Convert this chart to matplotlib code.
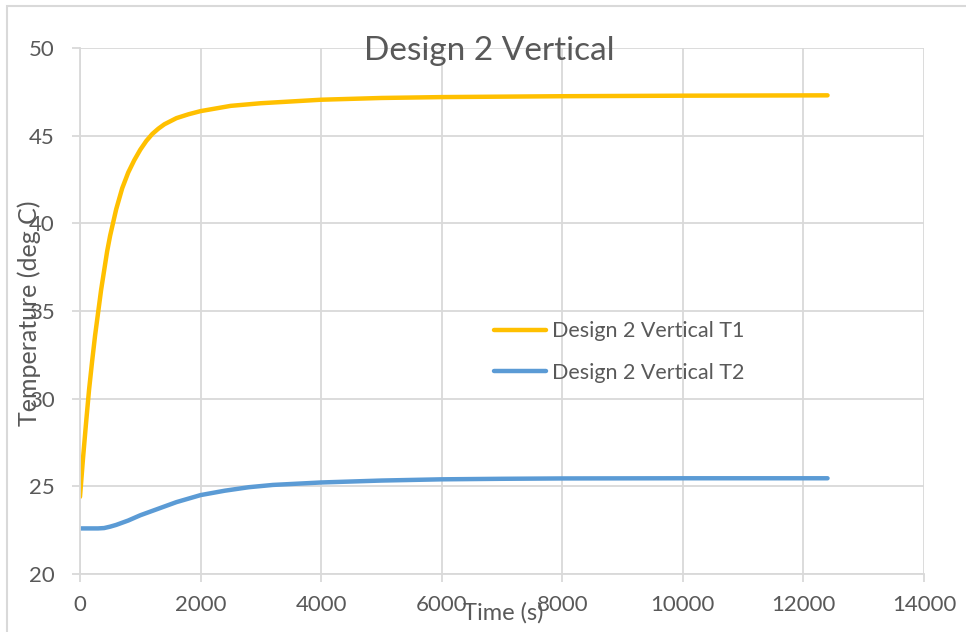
import matplotlib.pyplot as plt
from matplotlib.patches import Rectangle

# time (s) and temperatures (deg C)
t1_time = [0, 50, 100, 150, 200, 250, 300, 350, 400, 450, 500, 600, 700, 800, 900, 1000,
           1100, 1200, 1300, 1400, 1600, 1800, 2000, 2500, 3000, 3500, 4000, 5000, 6000,
           8000, 10000, 12400]
t1_temp = [24.4, 26.6, 28.6, 30.5, 32.1, 33.6, 34.9, 36.2, 37.3, 38.4, 39.3, 40.8, 42.0, 42.9,
           43.6, 44.2, 44.7, 45.1, 45.4, 45.65, 46.0, 46.22, 46.4, 46.7, 46.85, 46.95, 47.05,
           47.15, 47.2, 47.25, 47.28, 47.3]

t2_time = [0, 300, 400, 500, 600, 800, 1000, 1200, 1400, 1600, 1800, 2000, 2400, 2800,
           3200, 3600, 4000, 5000, 6000, 7000, 8000, 10000, 12400]
t2_temp = [22.6, 22.6, 22.62, 22.7, 22.8, 23.05, 23.35, 23.6, 23.85, 24.1, 24.3, 24.5, 24.75,
           24.95, 25.08, 25.15, 25.22, 25.33, 25.4, 25.43, 25.45, 25.46, 25.46]

x_ticks = [0, 2000, 4000, 6000, 8000, 10000, 12000, 14000]
y_ticks = [20, 25, 30, 35, 40, 45, 50]

plt.rcParams['font.family'] = ['Lato', 'DejaVu Sans']
txt = '#595959'
grid = '#d9d9d9'
W, H = 966, 632

fig = plt.figure(figsize=(9.66, 6.32), dpi=100)
fig.patches.append(Rectangle((7 / W, -0.1), 1.1, 1 - 6 / H + 0.1, transform=fig.transFigure,
                             fill=False, edgecolor=grid, linewidth=1.5))
ax = fig.add_axes([80 / W, 1 - 574 / H, 844 / W, 526 / H])

ax.plot(t1_time, t1_temp, color='#FFC000', lw=3.2, label='Design 2 Vertical T1', solid_capstyle='round')
ax.plot(t2_time, t2_temp, color='#5B9BD5', lw=3.2, label='Design 2 Vertical T2', solid_capstyle='round')

ax.set_xlim(0, 14000)
ax.set_ylim(20, 50)
ax.set_xticks(x_ticks)
ax.set_yticks(y_ticks)
ax.grid(True, color=grid, lw=1.3)
ax.set_axisbelow(True)
for s in ['top', 'right']:
    ax.spines[s].set_visible(False)
for s in ['left', 'bottom']:
    ax.spines[s].set_color(grid)
    ax.spines[s].set_linewidth(1.3)
ax.tick_params(colors=grid, labelcolor=txt, labelsize=16, length=6, width=1.3)
ax.tick_params(axis='y', pad=12)
ax.tick_params(axis='x', pad=9)

ax.text(0.485, 0.995, 'Design 2 Vertical', transform=ax.transAxes, ha='center', va='center',
        fontsize=24, color=txt)
# axis titles sit over the tick labels, as in the original
fig.text(503 / W, 1 - 613 / H, 'Time (s)', ha='center', va='center', fontsize=17, color=txt)
fig.text(29 / W, 1 - 313 / H, 'Temperature (deg C)', ha='center', va='center', rotation=90,
         fontsize=18, color=txt)

ax.legend(loc='center left', bbox_to_anchor=(0.467, 0.422), frameon=False, fontsize=15.5,
          labelcolor=txt, handlelength=2.45, handletextpad=0.25, labelspacing=1.0)

fig.savefig('out.png', dpi=100)
